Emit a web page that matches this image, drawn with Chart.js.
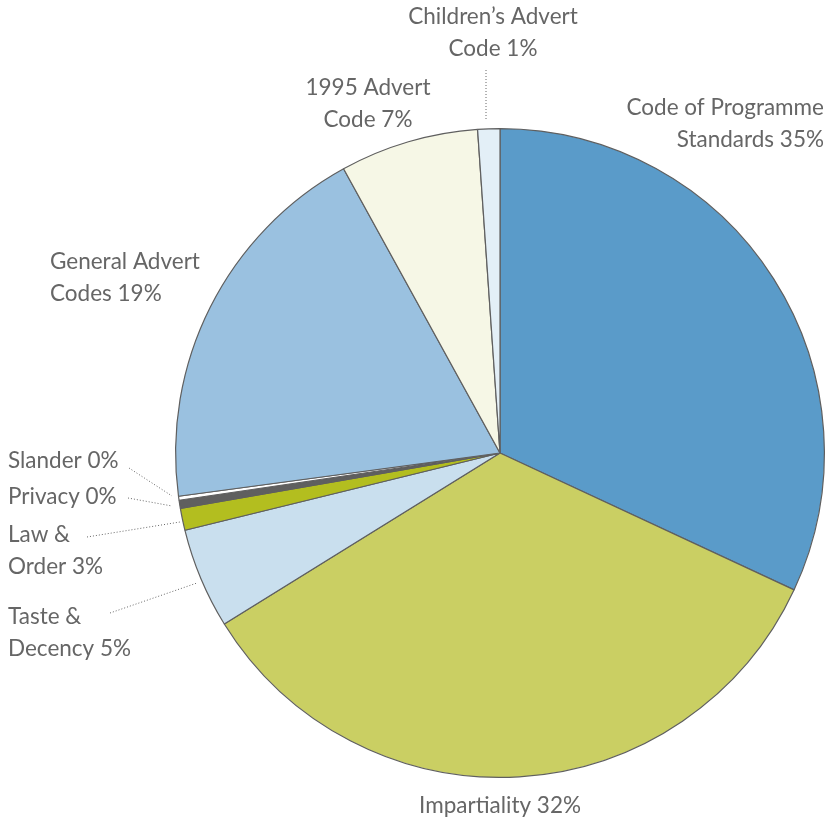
<!DOCTYPE html>
<html>
<head>
<meta charset="utf-8">
<script src="https://cdn.jsdelivr.net/npm/chart.js@4"></script>
<style>
  html, body { margin: 0; padding: 0; background: #fff; }
  #wrap { width: 834px; height: 826px; }
</style>
</head>
<body>
<div id="wrap"><canvas id="chart_pie" width="834" height="826"></canvas></div>
<script>
// slices, clockwise from 12 o'clock
var categories = ["Code of Programme Standards", "Impartiality", "Taste & Decency", "Law & Order",
  "Privacy", "Slander", "General Advert Codes", "1995 Advert Code", "Children's Advert Code"]
var shares = [31.9, 34.2, 5.0, 1.1, 0.4, 0.2, 19.1, 6.9, 1.1]
var labelText = [
  ["Code of Programme", "Standards 35%"],
  ["Impartiality 32%"],
  ["Taste &", "Decency 5%"],
  ["Law &", "Order 3%"],
  ["Privacy 0%"],
  ["Slander 0%"],
  ["General Advert", "Codes 19%"],
  ["1995 Advert", "Code 7%"],
  ["Children\u2019s Advert", "Code 1%"]
]
var sliceColors = ["#5a9bc9", "#cacf63", "#c9dfee", "#b3be1f", "#5f5f5f", "#ffffff", "#9ac1e0", "#f6f7e6", "#e3eff7"]

// where each label sits: x, first line y, align, and optional dotted leader
var labelPos = [
  {x: 824, y: 108, align: "right"},
  {x: 500, y: 806, align: "center"},
  {x: 8, y: 617, align: "left", lead: [110, 613, 197, 583]},
  {x: 8, y: 535, align: "left", lead: [87, 537, 180, 522]},
  {x: 8, y: 497, align: "left", lead: [128, 498, 172, 506]},
  {x: 8, y: 461, align: "left", lead: [129, 468, 172, 496]},
  {x: 50, y: 262, align: "left"},
  {x: 368, y: 88, align: "center"},
  {x: 493, y: 17, align: "center", lead: [486, 70, 486, 120]}
]

var labelPlugin = {
  id: "sliceLabels",
  afterDraw: function(chart){
    var ctx = chart.ctx
    ctx.save()
    ctx.fillStyle = "#666"
    ctx.font = "22.5px Lato"
    ctx.textBaseline = "middle"
    labelText.forEach(function(lines, i){
      var p = labelPos[i]
      ctx.textAlign = p.align
      lines.forEach(function(t, k){
        ctx.fillText(t, p.x, p.y + k * 32)
      })
      if (p.lead) {
        ctx.strokeStyle = "#666"
        ctx.lineWidth = 1
        ctx.setLineDash([1, 2])
        ctx.beginPath()
        ctx.moveTo(p.lead[0], p.lead[1])
        ctx.lineTo(p.lead[2], p.lead[3])
        ctx.stroke()
        ctx.setLineDash([])
      }
    })
    ctx.restore()
  }
}

var ctx = document.getElementById("chart_pie")
var myChart = new Chart(ctx, {
  type: "pie",
  data: {
    labels: categories,
    datasets: [{
      data: shares,
      backgroundColor: sliceColors,
      borderColor: "#5f5f5f",
      borderWidth: 1.2
    }]
  },
  options: {
    responsive: false,
    animation: false,
    layout: { padding: { left: 175, right: 9, top: 128, bottom: 48 } },
    plugins: {
      legend: { display: false },
      tooltip: { enabled: false }
    }
  },
  plugins: [labelPlugin]
})
</script>
</body>
</html>
